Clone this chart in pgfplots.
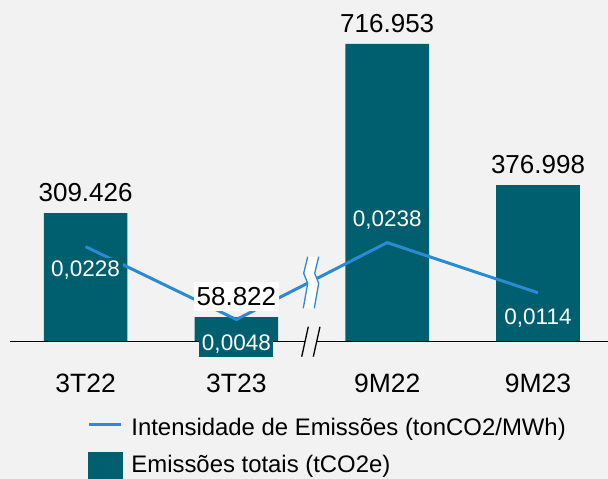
\documentclass[border=0pt]{standalone}
\usepackage{pgfplots}
\pgfplotsset{compat=1.18}
\usepackage{fontspec}
\setmainfont{Liberation Sans}
\definecolor{bgc}{HTML}{F2F2F2}
\definecolor{barc}{HTML}{005F6E}
\definecolor{linec}{HTML}{2A8BD4}
\newcommand\bigf{\fontsize{26}{30}\selectfont}
\newcommand\tickf{\fontsize{26.5}{30}\selectfont}
\newcommand\smallf{\fontsize{22.5}{27}\selectfont}
\newcommand\legf{\fontsize{23.9}{28}\selectfont}
\pgfplotsset{base/.style={
  at={(0pt,0pt)}, anchor=south west, scale only axis,
  width=608pt, height=341.5pt,
  xmin=-0.5676, xmax=3.4642, clip=false}}
\begin{document}
\begin{tikzpicture}
\path[use as bounding box, fill=bgc] (0pt,-137.5pt) rectangle (608pt,341.5pt);
% Axis A: bars
\begin{axis}[base, ymin=0, ymax=822900,
  axis line style={draw=none}, major tick length=0pt, ytick=\empty,
  xtick={0,1,2,3}, xticklabels={3T22,3T23,9M22,9M23},
  xticklabel style={font=\tickf, anchor=base, yshift=-50.6pt, inner sep=0pt}]
\addplot[ybar, bar width=83.6pt, fill=barc, draw=none] coordinates {(0,309426) (1,58822) (2,716953) (3,376998)};
\draw[black, line width=1.4pt] (axis cs:-0.5013,0) -- (axis cs:3.4642,0);
\node[font=\bigf, anchor=base, yshift=11.3pt] at (axis cs:0,309426) {309.426};
\node[font=\bigf, anchor=base, yshift=11.7pt] at (axis cs:2,716953) {716.953};
\node[font=\bigf, anchor=base, yshift=11.5pt] at (axis cs:3,376998) {376.998};
\end{axis}
% Axis B: intensity line
\begin{axis}[base, ymin=-0.00062, ymax=0.0837, hide axis,
  legend style={at={(axis description cs:0.1436,-0.2152)}, anchor=north west,
    draw=none, fill=none, inner sep=0pt, font=\legf, row sep=0pt, column sep=8.9pt,
    cells={anchor=base west}, nodes={inner sep=0pt, text height=20pt, text depth=17pt}}]
\addplot[linec, line width=3pt, mark=none,
  legend image code/.code={\draw[linec, line width=3pt] (0.7pt,10.8pt) -- (32.7pt,10.8pt);}]
  coordinates {(0,0.0228) (1,0.0048) (2,0.0238) (3,0.0114)};
\addlegendentry{Intensidade de Emissões (tonCO2/MWh)}
\addlegendimage{legend image code/.code={\fill[barc] (0pt,-5.5pt) rectangle (33.4pt,20pt);}}
\addlegendentry{Emissões totais (tCO2e)}
\node[font=\smallf, text=white, fill=barc, anchor=base, inner xsep=2.5pt, inner ysep=3pt, yshift=-30pt] at (axis cs:0,0.0228) {0,0228};
\node[font=\smallf, text=white, fill=barc, anchor=base, inner xsep=2.5pt, inner ysep=3pt, yshift=-31.2pt] at (axis cs:1,0.0048) {0,0048};
\node[font=\smallf, text=white, fill=barc, anchor=base, inner xsep=2.5pt, inner ysep=3pt, yshift=15.9pt] at (axis cs:2,0.0238) {0,0238};
\node[font=\smallf, text=white, fill=barc, anchor=base, inner xsep=2.5pt, inner ysep=3pt, yshift=-31.2pt] at (axis cs:3,0.0114) {0,0114};
\end{axis}
% Axis C: label of the small bar, above the line
\begin{axis}[base, ymin=0, ymax=822900, hide axis]
\addplot[draw=none, mark=none] coordinates {(1,58822)};
\node[font=\bigf, anchor=base, yshift=11.8pt, fill=white, inner xsep=3pt, inner ysep=5pt] at (axis cs:1,58822) {58.822};
\end{axis}
% axis break
\fill[bgc] (301.7pt,-15.2pt) -- (308.3pt,14.8pt) -- (320pt,14.8pt) -- (313.3pt,-15.2pt) -- cycle;
\draw[line width=1.3pt] (301.7pt,-15.2pt) -- (308.3pt,14.8pt) (313.3pt,-15.2pt) -- (320pt,14.8pt);
% line break
\fill[white] (307.7pt,84.8pt) -- (303.7pt,68.2pt) -- (307.7pt,58.2pt) -- (303.3pt,33.2pt) -- (314.3pt,33.2pt) -- (318.7pt,58.2pt) -- (314.7pt,68.2pt) -- (318.7pt,84.8pt) -- cycle;
\draw[linec, line width=1.3pt] (307.7pt,84.8pt) -- (303.7pt,68.2pt) -- (307.7pt,58.2pt) -- (303.3pt,33.2pt);
\draw[linec, line width=1.3pt] (318.7pt,84.8pt) -- (314.7pt,68.2pt) -- (318.7pt,58.2pt) -- (314.3pt,33.2pt);
\end{tikzpicture}
\end{document}
